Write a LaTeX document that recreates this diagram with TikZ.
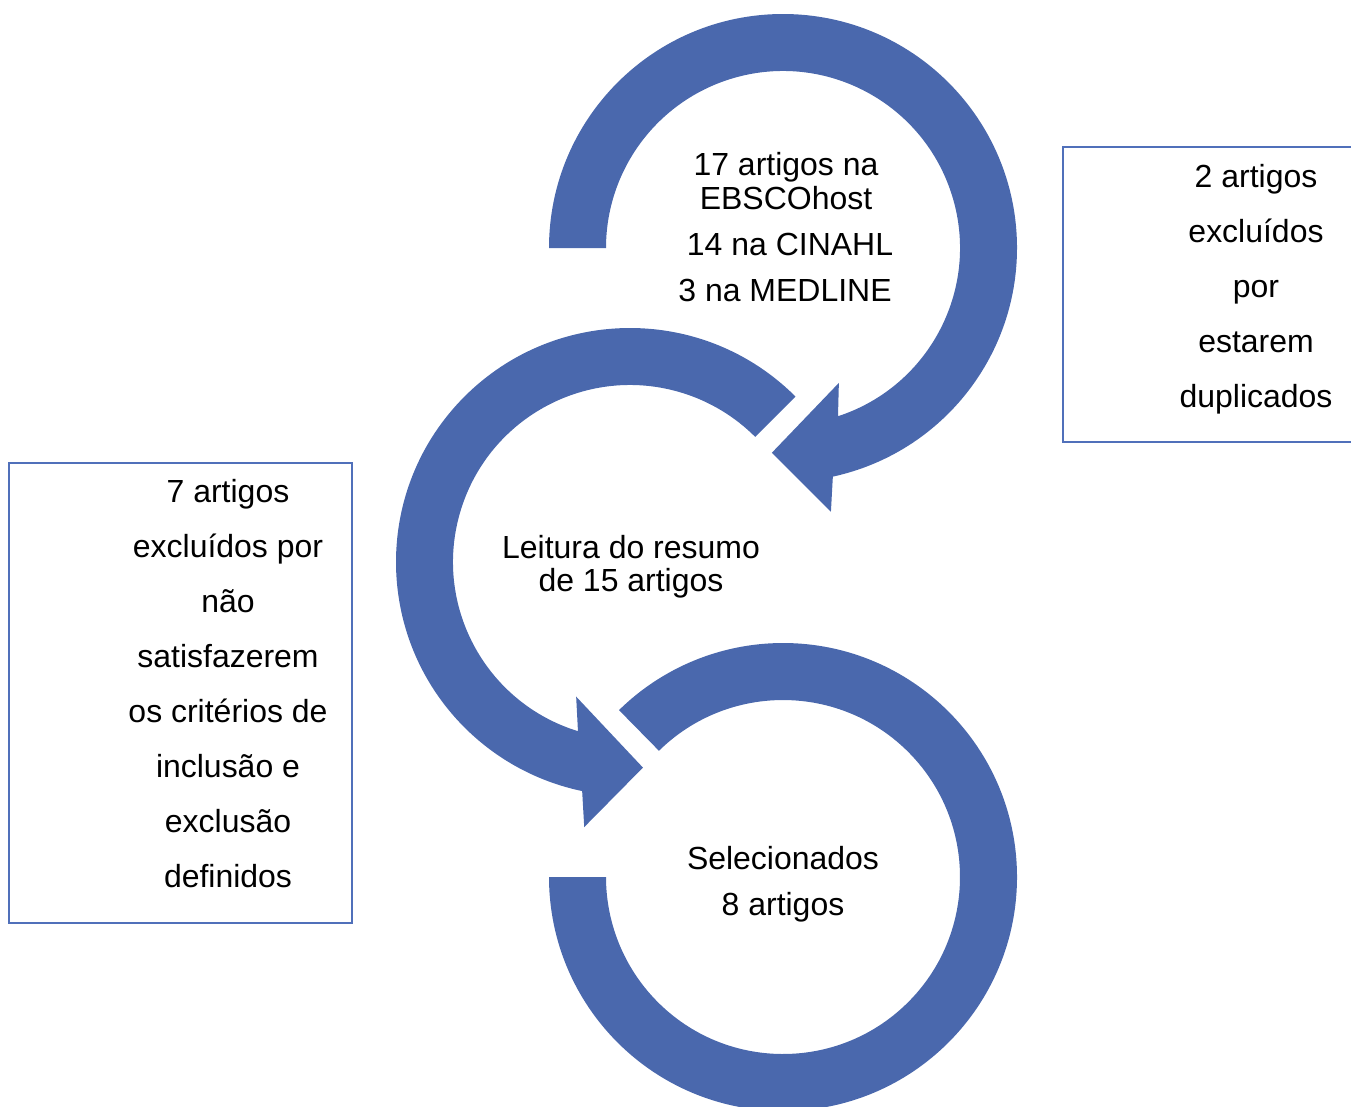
\documentclass[tikz,border=0pt]{standalone}
\usepackage{fontspec}
\setmainfont{Liberation Sans}
\usetikzlibrary{calc}
\definecolor{arrowblue}{RGB}{74,104,173}
\definecolor{boxblue}{RGB}{80,112,186}
\begin{document}
\begin{tikzpicture}[x=0.02cm,y=0.02cm,
  ringfill/.style={fill=arrowblue},
  sidebox/.style={draw=boxblue,line width=1.1pt},
  txt/.style={anchor=base,inner sep=0pt,font=\fontsize{18.2pt}{22pt}\selectfont}]
\useasboundingbox (0,0) rectangle (1351,-1106);
\clip (0,0) rectangle (1351,-1106);
\coordinate (c1) at (783,-248);
\coordinate (c2) at (630,-562);
\coordinate (c3) at (783,-877);
% ring 1 (top), clockwise with head at bottom
\fill[ringfill] ($(c1)+(180:234)$) arc[start angle=180,end angle=-77.7,radius=234]
  -- ($(c1)+(-79.7:268)$) -- ($(c1)+(-93.1:205)$) -- ($(c1)+(-67.5:146)$)
  -- ($(c1)+(-71.9:177)$) arc[start angle=-71.9,end angle=180,radius=177] -- cycle;
% ring 2 (middle), counter-clockwise with head at bottom
\fill[ringfill] ($(c2)+(45:234)$) arc[start angle=45,end angle=258.2,radius=234]
  -- ($(c2)+(260.2:269)$) -- ($(c2)+(273.6:206)$) -- ($(c2)+(248.2:145)$)
  -- ($(c2)+(252.9:177)$) arc[start angle=252.9,end angle=45,radius=177] -- cycle;
% ring 3 (bottom)
\fill[ringfill] ($(c3)+(180:234)$) arc[start angle=180,end angle=494.5,radius=234]
  -- ($(c3)+(494.5:177)$) arc[start angle=494.5,end angle=180,radius=177] -- cycle;
% side boxes
\draw[sidebox] (1063,-147) rectangle (1370,-442);
\draw[sidebox] (9,-463) rectangle (352,-923);
% ring texts
\node[txt] (t1a) at (786,-175) {17 artigos na};
\node[txt] (t1b) at (786,-209) {EBSCOhost};
\node[txt] (t1c) at (790,-255) {14 na CINAHL};
\node[txt] (t1d) at (785,-301) {3 na MEDLINE};
\node[txt] (t2a) at (631,-558) {Leitura do resumo};
\node[txt] (t2b) at (631,-591) {de 15 artigos};
\node[txt] (t3a) at (783,-869) {Selecionados};
\node[txt] (t3b) at (783,-915) {8 artigos};
% right box text
\node[txt] (r1) at (1256,-187) {2 artigos};
\node[txt] (r2) at (1256,-242) {excluídos};
\node[txt] (r3) at (1256,-297) {por};
\node[txt] (r4) at (1256,-352) {estarem};
\node[txt] (r5) at (1256,-407) {duplicados};
% left box text
\node[txt] (l1) at (228,-502) {7 artigos};
\node[txt] (l2) at (228,-557) {excluídos por};
\node[txt] (l3) at (228,-612) {não};
\node[txt] (l4) at (228,-667) {satisfazerem};
\node[txt] (l5) at (228,-722) {os critérios de};
\node[txt] (l6) at (228,-777) {inclusão e};
\node[txt] (l7) at (228,-832) {exclusão};
\node[txt] (l8) at (228,-887) {definidos};
\end{tikzpicture}
\end{document}
